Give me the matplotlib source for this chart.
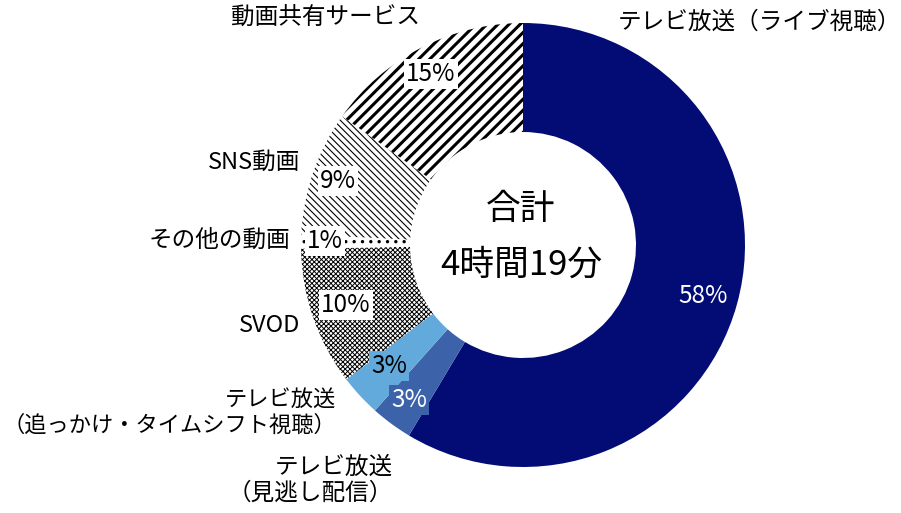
import matplotlib.pyplot as plt

plt.rcParams['font.family'] = ['Noto Sans CJK JP', 'DejaVu Sans']

# データ（時計回り、上から）
labels = ['テレビ放送（ライブ視聴）', 'テレビ放送\n（見逃し配信）',
          'テレビ放送\n（追っかけ・タイムシフト視聴）', 'SVOD', 'その他の動画',
          'SNS動画', '動画共有サービス']
shares = [58, 3, 3, 10, 1, 9, 15]
center_lines = ['合計', '4時間19分']

# 見た目
colors = ['#020c74', '#3c63a9', '#62a9dc', 'white', 'white', 'white', 'white']
hatches = [None, None, None, 'xxxxxxx', '..', '\\\\\\\\\\', '///']
hatch_lw = [1, 1, 1, 0.7, 1.2, 0.8, 2.2]
pct_color = ['white', 'white', 'black', 'black', 'black', 'black', 'black']
pct_box = [None, '#3c63a9', '#62a9dc', 'white', 'white', 'white', 'white']
# ピクセル位置（左上原点）
pct_pos = [(703, 296), (409, 400), (389, 366), (346, 305), (325, 241), (338, 181), (431, 74)]
lab_pos = [(760, 22, 'center'), (393, 480, 'right'), (336, 412, 'right'),
           (300, 326, 'right'), (290, 240, 'right'), (300, 162, 'right'),
           (326, 18, 'center')]
lab_size = [17, 17, 16, 17, 17, 17, 17]

W, H = 901, 513
fig = plt.figure(figsize=(W / 100, H / 100), dpi=100)
ax = fig.add_axes([0, 0, 1, 1])

cx, cy, R, r = 523, H - 245, 222, 113
wedges, _ = ax.pie(shares, colors=colors, startangle=90, counterclock=False,
                   center=(cx, cy), radius=R, frame=True,
                   wedgeprops=dict(width=R - r, linewidth=0))
for w, h, lw in zip(wedges, hatches, hatch_lw):
    if h:
        w.set_hatch(h)
        w.set_edgecolor('black')
        if hasattr(w, 'set_hatch_linewidth'):
            w.set_hatch_linewidth(lw)
ax.set_xlim(0, W)
ax.set_ylim(0, H)
ax.set_aspect('equal')
ax.axis('off')

for i, s in enumerate(shares):
    x, y = pct_pos[i]
    bbox = None
    if pct_box[i]:
        bbox = dict(boxstyle='square,pad=0.1', fc=pct_box[i], ec='none')
    ax.text(x, H - y, f'{s}%', ha='center', va='center', fontsize=17.5,
            color=pct_color[i], bbox=bbox)

for lab, (x, y, ha), fs in zip(labels, lab_pos, lab_size):
    ax.text(x, H - y, lab, ha=ha, va='center', fontsize=fs, color='black',
            multialignment=ha, linespacing=1.15)

ax.text(cx - 2, H - 210, center_lines[0], ha='center', va='center', fontsize=25)
ax.text(cx - 2, H - 265, center_lines[1], ha='center', va='center', fontsize=25)

fig.savefig('out.png', dpi=100)
